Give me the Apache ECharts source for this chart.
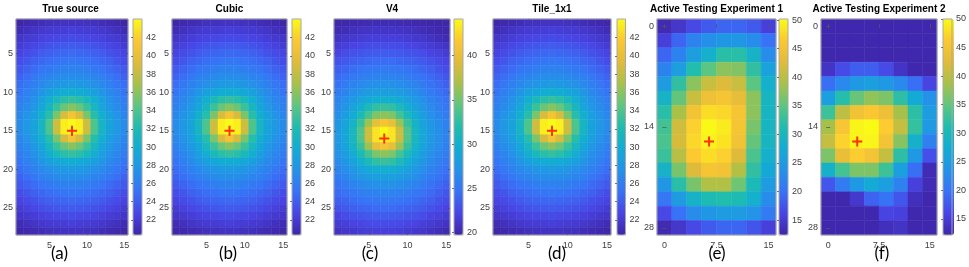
<!DOCTYPE html>
<html><head><meta charset="utf-8">
<script src="https://cdn.jsdelivr.net/npm/echarts@6/dist/echarts.min.js"></script>
<style>html,body{margin:0;padding:0;background:#fff}#c{width:969px;height:267px}</style>
</head><body><div id="c"></div>
<script>
// ---------------- DATA ----------------
const panelTitles = ['True source', 'Cubic', 'V4', 'Tile_1x1', 'Active Testing Experiment 1', 'Active Testing Experiment 2'];
const panelCaptions = ['(a)', '(b)', '(c)', '(d)', '(e)', '(f)'];

// cell centres
const colsFine = [1,2,3,4,5,6,7,8,9,10,11,12,13,14,15];
const rowsFine = [1,2,3,4,5,6,7,8,9,10,11,12,13,14,15,16,17,18,19,20,21,22,23,24,25,26,27,28];
const colsCoarse = [0, 2.143, 4.286, 6.429, 8.571, 10.714, 12.857, 15];
const rowsCoarse = [0,2,4,6,8,10,12,14,16,18,20,22,24,26,28];

// tick labels
const xTicksFine = [5, 10, 15];
const yTicksFine = [5, 10, 15, 20, 25];
const xTicksCoarse = [0, 7.5, 15];
const yTicksCoarse = [0, 14, 28];
const colorTicksABD = [22, 24, 26, 28, 30, 32, 34, 36, 38, 40, 42];
const colorTicksC = [20, 25, 30, 35, 40];
const colorTicksEF = [15, 20, 25, 30, 35, 40, 45, 50];

// colour ranges
const colorRanges = [[20.35, 44.05], [20.35, 44.05], [19.74, 44.15], [20.35, 44.05], [12.4, 50.2], [12.2, 50.0]];

// source markers (red crosses)
const sourceMarkers = [[8, 15], [8, 15], [7, 16], [8, 15], [6.429, 16], [4.286, 16]];

// (a) True source, rows 1..28, cols 1..15
const trueSourceValues = [
[20.4,20.6,20.8,21,21.2,21.3,21.4,21.4,21.4,21.3,21.2,21,20.8,20.6,20.4],
[20.9,21.2,21.5,21.8,22,22.1,22.2,22.3,22.2,22.1,22,21.8,21.5,21.2,20.9],
[21.6,21.9,22.2,22.5,22.7,22.9,23,23.1,23,22.9,22.7,22.5,22.2,21.9,21.6],
[22.1,22.5,22.9,23.2,23.5,23.7,23.8,23.9,23.8,23.7,23.5,23.2,22.9,22.5,22.1],
[22.7,23.1,23.5,23.9,24.2,24.4,24.6,24.7,24.6,24.4,24.2,23.9,23.5,23.1,22.7],
[23.2,23.7,24.2,24.6,24.9,25.2,25.4,25.5,25.4,25.2,24.9,24.6,24.2,23.7,23.2],
[23.8,24.3,24.8,25.3,25.7,26,26.2,26.3,26.2,26,25.7,25.3,24.8,24.3,23.8],
[24.3,24.9,25.5,26.1,26.5,26.9,27.1,27.2,27.1,26.9,26.5,26.1,25.5,24.9,24.3],
[24.9,25.5,26.2,26.8,27.4,27.9,28.2,28.3,28.2,27.9,27.4,26.8,26.2,25.5,24.9],
[25.4,26.1,26.9,27.8,28.7,29.4,29.8,30,29.8,29.4,28.7,27.8,26.9,26.1,25.4],
[25.9,26.6,27.5,28.7,30.1,31.6,32.6,33,32.6,31.6,30.1,28.7,27.5,26.6,25.9],
[26.3,27.1,28.1,29.4,31.3,33.3,35,36,35,33.3,31.3,29.4,28.1,27.1,26.3],
[26.7,27.6,28.7,30.3,32.5,35.5,39,41,39,35.5,32.5,30.3,28.7,27.6,26.7],
[27,28,29,31,34,38.5,43.5,44,43.5,38.5,34,31,29,28,27],
[27,28,29,31,34,38.5,43.5,44,43.5,38.5,34,31,29,28,27],
[26.7,27.6,28.7,30.3,32.5,35.5,39,41,39,35.5,32.5,30.3,28.7,27.6,26.7],
[26.3,27.1,28.1,29.4,31.3,33.3,35,36,35,33.3,31.3,29.4,28.1,27.1,26.3],
[25.9,26.6,27.5,28.7,30.1,31.6,32.6,33,32.6,31.6,30.1,28.7,27.5,26.6,25.9],
[25.4,26.1,26.9,27.8,28.7,29.4,29.8,30,29.8,29.4,28.7,27.8,26.9,26.1,25.4],
[24.9,25.5,26.2,26.8,27.4,27.9,28.2,28.3,28.2,27.9,27.4,26.8,26.2,25.5,24.9],
[24.3,24.9,25.5,26.1,26.5,26.9,27.1,27.2,27.1,26.9,26.5,26.1,25.5,24.9,24.3],
[23.8,24.3,24.8,25.3,25.7,26,26.2,26.3,26.2,26,25.7,25.3,24.8,24.3,23.8],
[23.2,23.7,24.2,24.6,24.9,25.2,25.4,25.5,25.4,25.2,24.9,24.6,24.2,23.7,23.2],
[22.7,23.1,23.5,23.9,24.2,24.4,24.6,24.7,24.6,24.4,24.2,23.9,23.5,23.1,22.7],
[22.1,22.5,22.9,23.2,23.5,23.7,23.8,23.9,23.8,23.7,23.5,23.2,22.9,22.5,22.1],
[21.6,21.9,22.2,22.5,22.7,22.9,23,23.1,23,22.9,22.7,22.5,22.2,21.9,21.6],
[20.9,21.2,21.5,21.8,22,22.1,22.2,22.3,22.2,22.1,22,21.8,21.5,21.2,20.9],
[20.4,20.6,20.8,21,21.2,21.3,21.4,21.4,21.4,21.3,21.2,21,20.8,20.6,20.4]
];
// (b) Cubic and (d) Tile_1x1 are indistinguishable from (a) at this resolution
const cubicValues = trueSourceValues;
const tileValues = trueSourceValues;

// (c) V4
const v4Values = [
[19.8,19.9,20,20.1,20.2,20.3,20.3,20.3,20.2,20.1,20,19.9,19.8,19.8,19.8],
[20.2,20.4,20.6,20.8,20.9,21,21,21,20.9,20.8,20.6,20.4,20.2,20,19.9],
[20.8,21.1,21.3,21.5,21.7,21.8,21.8,21.8,21.7,21.5,21.3,21.1,20.8,20.5,20.2],
[21.5,21.8,22.1,22.3,22.5,22.6,22.6,22.6,22.5,22.3,22.1,21.8,21.5,21.2,20.9],
[22.2,22.6,22.9,23.1,23.3,23.4,23.5,23.4,23.3,23.1,22.9,22.6,22.2,21.9,21.5],
[22.9,23.3,23.6,23.9,24.1,24.3,24.3,24.3,24.1,23.9,23.6,23.3,22.9,22.5,22.1],
[23.6,24,24.4,24.7,25,25.1,25.2,25.1,25,24.7,24.4,24,23.6,23.1,22.6],
[24.2,24.7,25.1,25.5,25.8,26,26.1,26,25.8,25.5,25.1,24.7,24.2,23.7,23.2],
[24.8,25.4,25.9,26.4,26.8,27,27.1,27,26.8,26.4,25.9,25.4,24.8,24.2,23.7],
[25.4,26.1,26.8,27.4,27.9,28.2,28.3,28.2,27.9,27.4,26.8,26.1,25.4,24.8,24.2],
[26,26.8,27.7,28.6,29.3,29.8,30,29.8,29.3,28.6,27.7,26.8,26,25.3,24.7],
[26.5,27.5,28.7,30,31.5,32.7,33,32.7,31.5,30,28.7,27.5,26.5,25.8,25.1],
[27,28.1,29.5,31.5,33.5,35.5,36,35.5,33.5,31.5,29.5,28.1,27,26.2,25.5],
[27.5,28.7,30.5,33,36.5,40,41,40,36.5,33,30.5,28.7,27.5,26.6,25.8],
[27.8,29,31,34,38.5,43,44,43,38.5,34,31,29,27.8,26.8,26],
[27.8,29,31,34,38.5,43,44,43,38.5,34,31,29,27.8,26.8,26],
[27.5,28.7,30.5,33,36.5,40,41,40,36.5,33,30.5,28.7,27.5,26.6,25.8],
[27,28.1,29.5,31.5,33.5,35.5,36,35.5,33.5,31.5,29.5,28.1,27,26.2,25.5],
[26.5,27.5,28.7,30,31.5,32.7,33,32.7,31.5,30,28.7,27.5,26.5,25.8,25.1],
[26,26.8,27.7,28.6,29.3,29.8,30,29.8,29.3,28.6,27.7,26.8,26,25.3,24.7],
[25.4,26.1,26.8,27.4,27.9,28.2,28.3,28.2,27.9,27.4,26.8,26.1,25.4,24.8,24.2],
[24.8,25.4,25.9,26.4,26.8,27,27.1,27,26.8,26.4,25.9,25.4,24.8,24.2,23.7],
[24.2,24.7,25.1,25.5,25.8,26,26.1,26,25.8,25.5,25.1,24.7,24.2,23.7,23.2],
[23.6,24,24.4,24.7,25,25.1,25.2,25.1,25,24.7,24.4,24,23.6,23.1,22.6],
[22.9,23.3,23.6,23.9,24.1,24.3,24.3,24.3,24.1,23.9,23.6,23.3,22.9,22.5,22.1],
[22.2,22.6,22.9,23.1,23.3,23.4,23.5,23.4,23.3,23.1,22.9,22.6,22.2,21.9,21.5],
[21.5,21.8,22.1,22.3,22.5,22.6,22.6,22.6,22.5,22.3,22.1,21.8,21.5,21.2,20.9],
[20.8,21.1,21.3,21.5,21.7,21.8,21.8,21.8,21.7,21.5,21.3,21.1,20.8,20.5,20.2]
];

// (e) Active Testing Experiment 1, rows 0..28 step 2, cols 0..15 (8)
const experiment1Values = [
[13,14.5,16.5,18,19,19,18,15.5],
[15.5,19,22,23.5,24.5,24.5,23,20],
[19,22,25.5,28.5,32,32,29,23],
[22,25.5,31.5,35,37.5,37,32.5,26],
[25,32.5,37.5,41,42.5,41,35,28.5],
[29,35.5,41,44.5,45.5,43.5,37.5,29.5],
[32,39,45,48,47.5,45.5,37.5,29.5],
[33.5,41.5,47,50,49,45.5,36.5,29.5],
[34,42,47.5,49.5,48.5,45,35.5,29.5],
[33,40,46.5,48,47,42.5,34,28.5],
[29,36.5,42.5,45.5,45,39.5,32.5,27],
[24.5,32,36.5,39.5,39.5,36,30.5,25],
[20.5,25,29,31,31.5,31,28.5,23],
[16.5,20,23,24.5,25,25,24,21],
[13,14.5,16.5,18,19,19,17.5,15.5]
];

// (f) Active Testing Experiment 2
const experiment2Values = [
[12.5,12.5,12.5,12.5,12.5,12.5,12.5,12.5],
[12.5,12.5,12.5,12.5,12.5,12.5,12.5,12.5],
[12.5,12.5,12.5,12.5,12.5,12.5,12.5,12.5],
[14,16.5,18,18,16.5,14,12.5,12.5],
[19.5,22.5,24.5,25.5,24.5,22.5,19.5,16],
[25.5,31.5,35.5,37.5,36.5,32,27,23.5],
[33,40,44.5,46,44,38.5,32,25],
[38.5,45.5,49.5,50,46.5,40.5,32.5,24.5],
[40.5,47,49.5,49.5,45,37,28.5,21.5],
[36.5,43.5,46.5,45,40.5,32,24.5,17],
[28.5,33.5,36.5,36.5,33,25.5,19.5,13],
[17.5,21,24.5,27,25.5,21.5,15.5,13],
[12.5,12.5,14.5,18.5,20,17.5,13.5,12.5],
[12.5,12.5,12.5,12.5,16,15.5,12.5,12.5],
[12.5,12.5,12.5,12.5,13.5,14,12.5,12.5]
];

// parula-like colormap
const parula = ['#3e26a8','#4844e4','#3872f6','#2492e8','#12acd4','#1ebcb0','#5cc680','#a8c148','#e1bb3a','#fcc832','#f9fb15'];

// ---------------- LAYOUT ----------------
const plotTop = 19, plotHeight = 216;
const layout = [
  {left: 13,  width: 115, cbLeft: 133, cbWidth: 9,  cap: 59.5},
  {left: 172, width: 115, cbLeft: 292, cbWidth: 9,  cap: 228},
  {left: 334, width: 116, cbLeft: 454, cbWidth: 9,  cap: 370},
  {left: 493, width: 118, cbLeft: 617, cbWidth: 8.5, cap: 557},
  {left: 657, width: 119, cbLeft: 779, cbWidth: 9,  cap: 717},
  {left: 821, width: 116, cbLeft: 943, cbWidth: 11, cap: 882}
];

const panelData = [trueSourceValues, cubicValues, v4Values, tileValues, experiment1Values, experiment2Values];
const colorTicks = [colorTicksABD, colorTicksABD, colorTicksC, colorTicksABD, colorTicksEF, colorTicksEF];

const labelColor = '#404040';
const boxColor = '#a8a8a8';
const fontFam = 'Liberation Sans, Arial, sans-serif';

function makeRender(hw, hh) {
  return function (params, api) {
    const x = api.value(0), y = api.value(1);
    const a = api.coord([x - hw, y - hh]);
    const b = api.coord([x + hw, y + hh]);
    const c = api.visual('color');
    return {
      type: 'rect',
      shape: {x: Math.min(a[0], b[0]), y: Math.min(a[1], b[1]), width: Math.abs(b[0] - a[0]), height: Math.abs(b[1] - a[1])},
      style: {fill: c, stroke: c, lineWidth: 0.5}
    };
  };
}

const grid = [], xAxis = [], yAxis = [], series = [], visualMap = [], title = [];
const crossSeries = [];

function tickAxis(base, ticks, showLabel, margin) {
  return Object.assign({
    type: 'value',
    axisLine: {show: false},
    splitLine: {show: false},
    axisTick: {show: true, inside: true, length: 2, customValues: ticks, lineStyle: {color: '#555', width: 0.8}},
    axisLabel: {show: showLabel, customValues: ticks, fontSize: 9, color: labelColor, fontFamily: fontFam, margin: margin},
    z: 11
  }, base);
}

for (let i = 0; i < 6; i++) {
  const L = layout[i];
  const coarse = i >= 4;
  const xs = coarse ? colsCoarse : colsFine;
  const ys = coarse ? rowsCoarse : rowsFine;
  const hw = coarse ? 15 / 14 : 0.5;
  const hh = coarse ? 1 : 0.5;
  const xMin = xs[0] - hw, xMax = xs[xs.length - 1] + hw;
  const yMin = ys[0] - hh, yMax = ys[ys.length - 1] + hh;
  const xt = coarse ? xTicksCoarse : xTicksFine;
  const yt = coarse ? yTicksCoarse : yTicksFine;

  grid[i] = {left: L.left, top: plotTop, width: L.width, height: plotHeight, show: true, borderColor: boxColor, borderWidth: 1, backgroundColor: 'transparent', z: 10};
  grid[i + 6] = {left: L.cbLeft, top: plotTop, width: L.cbWidth, height: plotHeight, show: true, borderColor: boxColor, borderWidth: 1, backgroundColor: 'transparent', z: 10};

  xAxis[i] = tickAxis({gridIndex: i, min: xMin, max: xMax, position: 'bottom'}, xt, true, 6);
  yAxis[i] = tickAxis({gridIndex: i, min: yMin, max: yMax, inverse: true, position: 'left'}, yt, true, 3);

  xAxis[i + 6] = {gridIndex: i + 6, type: 'value', show: false, min: 0, max: 1};
  yAxis[i + 6] = tickAxis({gridIndex: i + 6, min: colorRanges[i][0], max: colorRanges[i][1], position: 'right'}, colorTicks[i], true, 4);

  xAxis[i + 12] = tickAxis({gridIndex: i, min: xMin, max: xMax, position: 'top'}, xt, false, 2);
  yAxis[i + 12] = tickAxis({gridIndex: i, min: yMin, max: yMax, inverse: true, position: 'right'}, yt, false, 2);

  const data = [];
  const vals = panelData[i];
  for (let r = 0; r < ys.length; r++) {
    for (let c = 0; c < xs.length; c++) {
      data.push([xs[c], ys[r], vals[r][c]]);
    }
  }
  series.push({
    type: 'custom', xAxisIndex: i, yAxisIndex: i, data: data,
    encode: {x: 0, y: 1}, renderItem: makeRender(hw, hh), silent: true, z: 2
  });
  crossSeries.push({
    type: 'scatter', xAxisIndex: i, yAxisIndex: i, data: [sourceMarkers[i]],
    symbol: 'path://M4,0H6V10H4Z M0,4H10V6H0Z', symbolSize: 10,
    itemStyle: {color: '#ff0000'}, silent: true, z: 5
  });

  visualMap.push({
    type: 'continuous', seriesIndex: i, dimension: 2,
    min: colorRanges[i][0], max: colorRanges[i][1],
    left: L.cbLeft, top: plotTop, itemWidth: L.cbWidth, itemHeight: plotHeight,
    padding: 0, calculable: false, hoverLink: false, orient: 'vertical',
    inRange: {color: parula}, z: 4
  });

  title.push({
    text: panelTitles[i], left: L.left + L.width / 2, top: 4, padding: 0,
    textAlign: 'center', textVerticalAlign: 'top',
    textStyle: {fontSize: 10, fontWeight: 'bold', color: '#000', fontFamily: fontFam}
  });
  title.push({
    text: panelCaptions[i], left: L.cap, top: 245, padding: 0,
    textAlign: 'center', textVerticalAlign: 'top',
    textStyle: {fontSize: 17, fontWeight: 'normal', color: '#000', fontFamily: 'Lato, Liberation Sans, sans-serif'}
  });
}

const chart = echarts.init(document.getElementById('c'), null, {renderer: 'canvas'});
chart.setOption({
  animation: false,
  backgroundColor: '#fff',
  title: title,
  grid: grid,
  xAxis: xAxis,
  yAxis: yAxis,
  visualMap: visualMap,
  series: series.concat(crossSeries)
});
</script></body></html>
